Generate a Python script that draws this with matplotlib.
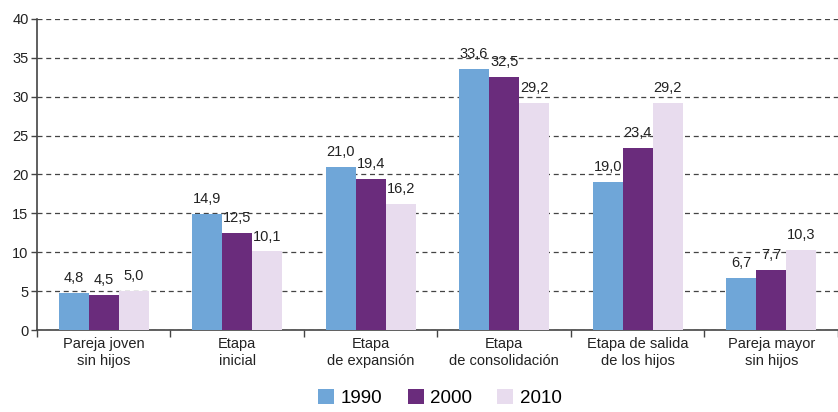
import matplotlib
matplotlib.use("Agg")
import matplotlib.pyplot as plt
import numpy as np

plt.rcParams['font.family'] = ['Liberation Sans', 'DejaVu Sans']

categories = ["Pareja joven\nsin hijos", "Etapa\ninicial", "Etapa\nde expansión",
              "Etapa\nde consolidación", "Etapa de salida\nde los hijos", "Pareja mayor\nsin hijos"]
series_names = ["1990", "2000", "2010"]
v1990 = [4.8, 14.9, 21.0, 33.6, 19.0, 6.7]
v2000 = [4.5, 12.5, 19.4, 32.5, 23.4, 7.7]
v2010 = [5.0, 10.1, 16.2, 29.2, 29.2, 10.3]
colors = ["#6fa6d8", "#6a2c7c", "#e8dcee"]
yticks = [0, 5, 10, 15, 20, 25, 30, 35, 40]

fig = plt.figure(figsize=(8.38, 4.12), dpi=100)
ax = fig.add_axes([0.044, 0.199, 0.956, 0.755])

x = np.arange(len(categories))
w = 0.225
for i, (vals, name, c) in enumerate(zip([v1990, v2000, v2010], series_names, colors)):
    pos = x + (i - 1) * w
    ax.bar(pos, vals, width=w, color=c, label=name, zorder=3)
    for xb, v in zip(pos, vals):
        ax.text(xb, v + 1.0, f"{v:.1f}".replace(".", ","), ha="center", va="bottom",
                fontsize=10.5, color="#222222", zorder=4)

ax.set_xlim(-0.5, len(categories) - 0.5)
ax.set_ylim(0, 40)
ax.set_yticks(yticks)
ax.set_yticklabels([str(t) for t in yticks], fontsize=10.5, color="#222222")
ax.yaxis.grid(True, linestyle=(0, (4, 3)), color="#444444", linewidth=0.9, zorder=0)
ax.set_axisbelow(True)

# category boundary ticks on the x axis
ax.set_xticks(np.arange(len(categories) + 1) - 0.5)
ax.set_xticklabels([])
ax.set_xticks(x, minor=True)
ax.set_xticklabels(categories, minor=True, fontsize=10.5, color="#222222", linespacing=1.25)
ax.tick_params(axis="x", which="minor", length=0, pad=5)
ax.tick_params(axis="x", which="major", length=5, width=1, color="#444444")
ax.tick_params(axis="y", length=4, width=1, color="#444444", pad=2)

for s in ["top", "right"]:
    ax.spines[s].set_visible(False)
for s in ["left", "bottom"]:
    ax.spines[s].set_color("#444444")
    ax.spines[s].set_linewidth(1.2)

fig.legend(loc="lower center", bbox_to_anchor=(0.525, -0.028), ncol=3, frameon=False,
           fontsize=13.5, handlelength=0.85, handleheight=0.85, columnspacing=1.35,
           handletextpad=0.35)

fig.savefig("out.png", dpi=100)
